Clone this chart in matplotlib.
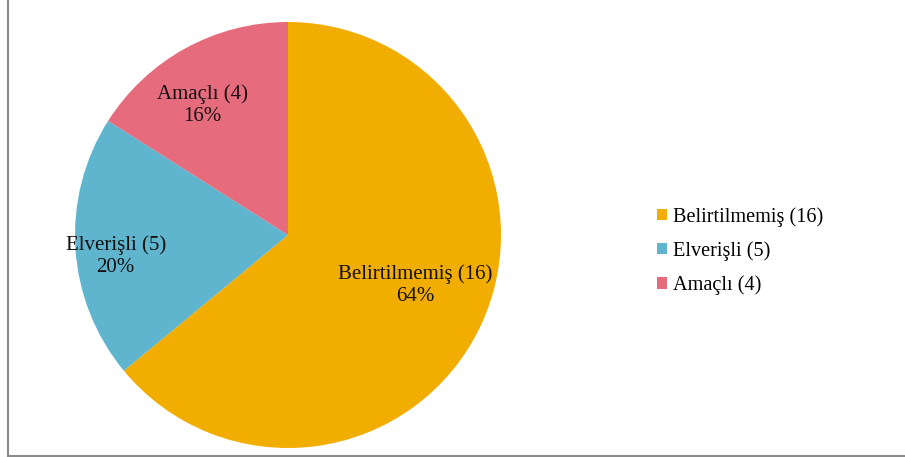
import matplotlib
matplotlib.use("Agg")
import matplotlib.pyplot as plt
import numpy as np
from matplotlib.lines import Line2D
from matplotlib.patches import Patch

categories = ["Belirtilmemiş", "Elverişli", "Amaçlı"]
counts = [16, 5, 4]
colors = ["#F1AD00", "#5FB4CE", "#E56B7D"]
# label placement (radius fraction, angle in degrees)
label_r = [0.64, 0.815, 0.73]
label_ang = [-21.5, 187.0, 123.5]

plt.rcParams['font.family'] = ['Liberation Serif', 'DejaVu Serif']

fig = plt.figure(figsize=(9.05, 4.57), dpi=100)
W, H = 905, 457
ax = fig.add_axes([75 / W, 9 / H, 426 / W, 426 / H])
wedges, _ = ax.pie(counts, colors=colors, startangle=90, counterclock=False,
                   radius=1.0, wedgeprops=dict(linewidth=0))
ax.set_xlim(-1, 1)
ax.set_ylim(-1, 1)
ax.set_aspect('equal')

total = sum(counts)
for c, n, r, a in zip(categories, counts, label_r, label_ang):
    x = r * np.cos(np.radians(a))
    y = r * np.sin(np.radians(a))
    ax.text(x, y, f"{c} ({n})\n{round(100 * n / total)}%", ha='center', va='center',
            fontsize=15, color='#111111', linespacing=1.2)

handles = [Patch(facecolor=col, edgecolor='none') for col in colors]
labels = [f"{c} ({n})" for c, n in zip(categories, counts)]
leg = fig.legend(handles, labels, loc='center left', bbox_to_anchor=(647 / W, (H - 251) / H),
                 frameon=False, fontsize=14.6, handlelength=0.5, handleheight=0.5,
                 handletextpad=0.3, labelspacing=0.72, borderpad=0)

# figure border (left and bottom visible)
fig.add_artist(Line2D([7.5 / W, 7.5 / W], [1.5 / H, 1.0], transform=fig.transFigure,
                      color='#8a8a8a', linewidth=1.5))
fig.add_artist(Line2D([7.5 / W, 1.0], [1.5 / H, 1.5 / H], transform=fig.transFigure,
                      color='#8a8a8a', linewidth=1.5))

fig.savefig("out.png", dpi=100)
